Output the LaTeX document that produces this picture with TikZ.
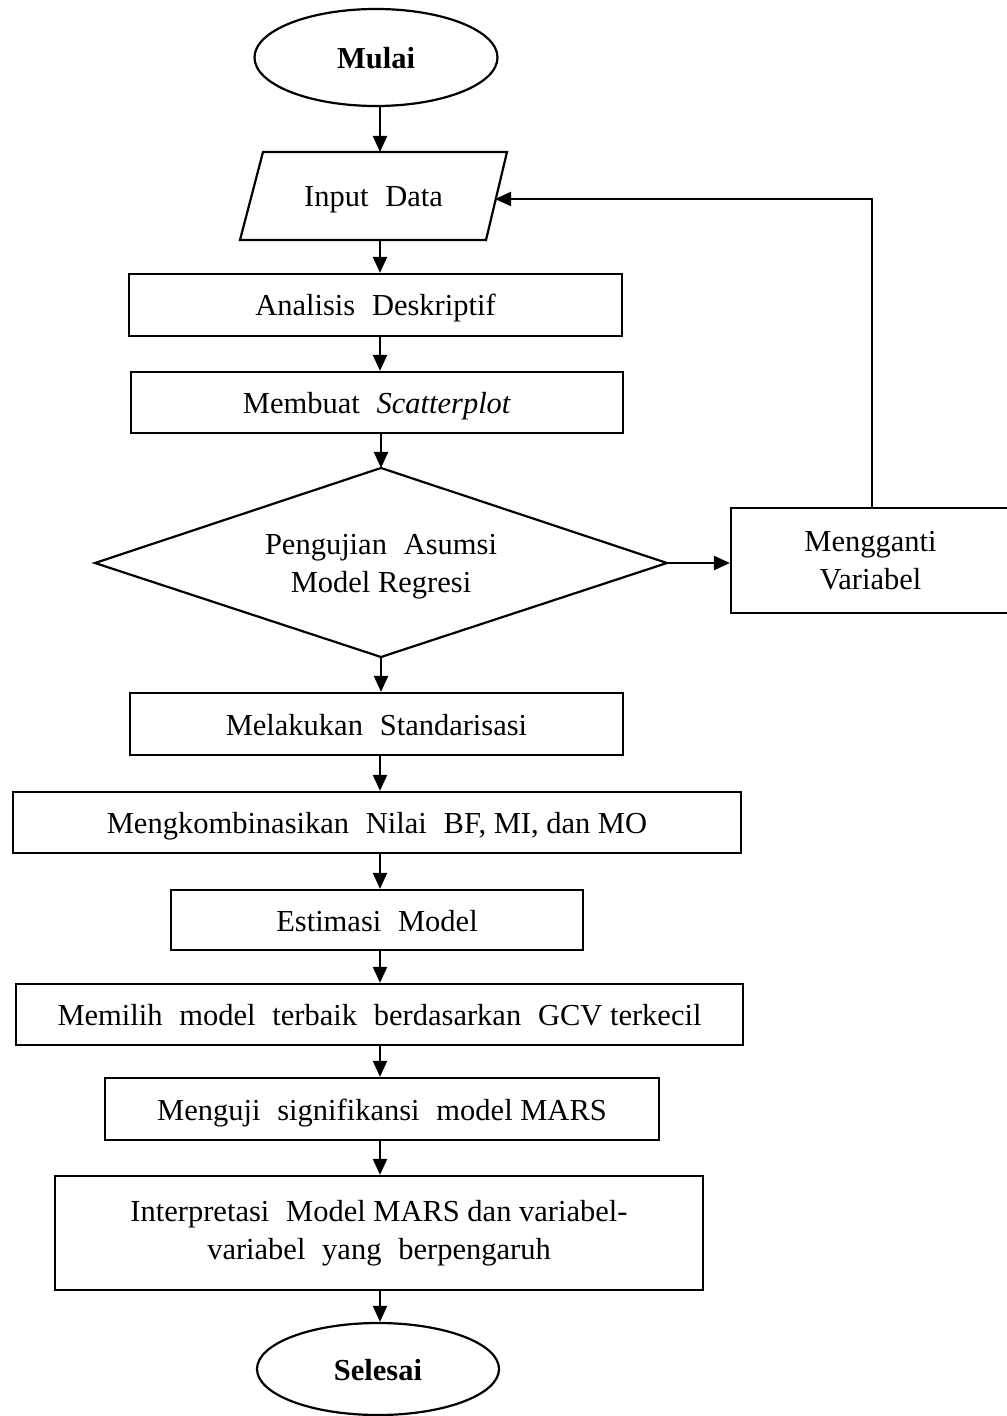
\documentclass[tikz,border=0pt]{standalone}
\usepackage{fontspec}
\setmainfont{Liberation Serif}
\usetikzlibrary{shapes.geometric,arrows.meta}
\newcommand{\ws}{\hspace{0.55em}}
\begin{document}
\begin{tikzpicture}[x=0.5pt,y=-0.5pt,
  every node/.style={font=\fontsize{15.25}{19}\selectfont},
  line/.style={line width=1.1pt},
  arr/.style={line width=1.1pt,-{Triangle[length=8pt,width=7pt]}},
  procbox/.style={draw,line width=1.1pt,rectangle,inner sep=0pt,align=center},
  oneline/.style={text height=14.8pt,text depth=3.8pt},
  term/.style={draw,line width=1.1pt,ellipse,inner sep=0pt,oneline,font=\fontsize{15.25}{19}\selectfont\bfseries},
]
\useasboundingbox (0,0) rectangle (1006,1416);
\coordinate (spine) at (380,0);

\node[term, minimum width=121.5pt, minimum height=48.5pt] (start) at (376,57.5) {Mulai};

% input parallelogram
\draw[line] (263,152) -- (507,152) -- (486,240) -- (240,240) -- cycle;
\node[inner sep=0pt, oneline] (input) at (373.5,196) {Input\ws Data};
\coordinate (inputN) at (380,152);
\coordinate (inputS) at (380,240);
\coordinate (inputE) at (495,199);

\node[procbox, oneline, minimum width=246.5pt, minimum height=31pt] (desc) at (375.5,305) {Analisis\ws Deskriptif};
\node[procbox, oneline, minimum width=246pt, minimum height=30.5pt] (scat) at (377,402.5) {Membuat\ws\textit{Scatterplot}};

% decision diamond
\coordinate (dtop) at (381,468);
\coordinate (dleft) at (95,563);
\coordinate (dright) at (667,563);
\coordinate (dbot) at (381,657);
\draw[line] (dtop) -- (dright) -- (dbot) -- (dleft) -- cycle;
\node[align=center, inner sep=0pt] (test) at (381,567) {Pengujian\ws Asumsi\\Model Regresi};

\node[procbox, minimum width=139.5pt, minimum height=52.5pt] (ganti) at (870.5,560.5) {Mengganti\\Variabel};
\node[procbox, oneline, minimum width=246.5pt, minimum height=31pt] (std) at (376.5,724) {Melakukan\ws Standarisasi};
\node[procbox, oneline, minimum width=364pt, minimum height=30.5pt] (komb) at (377,822.5) {Mengkombinasikan\ws Nilai\ws BF, MI, dan MO};
\node[procbox, oneline, minimum width=206pt, minimum height=30pt] (est) at (377,920) {Estimasi\ws Model};
\node[procbox, oneline, minimum width=363.5pt, minimum height=30.5pt] (pilih) at (379.5,1014.5) {Memilih\ws model\ws terbaik\ws berdasarkan\ws GCV terkecil};
\node[procbox, oneline, minimum width=277pt, minimum height=31pt] (uji) at (382,1109) {Menguji\ws signifikansi\ws model MARS};
\node[procbox, minimum width=324pt, minimum height=57pt] (interp) at (379,1233) {Interpretasi\ws Model MARS dan variabel-\\variabel\ws yang\ws berpengaruh};
\node[term, minimum width=121pt, minimum height=46pt] (end) at (378,1369) {Selesai};

\draw[arr] (start.south -| spine) -- (inputN);
\draw[arr] (inputS) -- (desc.north -| spine);
\draw[arr] (desc.south -| spine) -- (scat.north -| spine);
\draw[arr] (scat.south -| dtop) -- (dtop);
\draw[arr] (dbot) -- (std.north -| dbot);
\draw[arr] (std.south -| spine) -- (komb.north -| spine);
\draw[arr] (komb.south -| spine) -- (est.north -| spine);
\draw[arr] (est.south -| spine) -- (pilih.north -| spine);
\draw[arr] (pilih.south -| spine) -- (uji.north -| spine);
\draw[arr] (uji.south -| spine) -- (interp.north -| spine);
\draw[arr] (interp.south -| spine) -- (end.north -| spine);

\draw[arr] (dright) -- (ganti.west |- dright);
\coordinate (fb) at (872,199);
\draw[arr] (ganti.north -| fb) -- (fb) -- (inputE);
\end{tikzpicture}
\end{document}
